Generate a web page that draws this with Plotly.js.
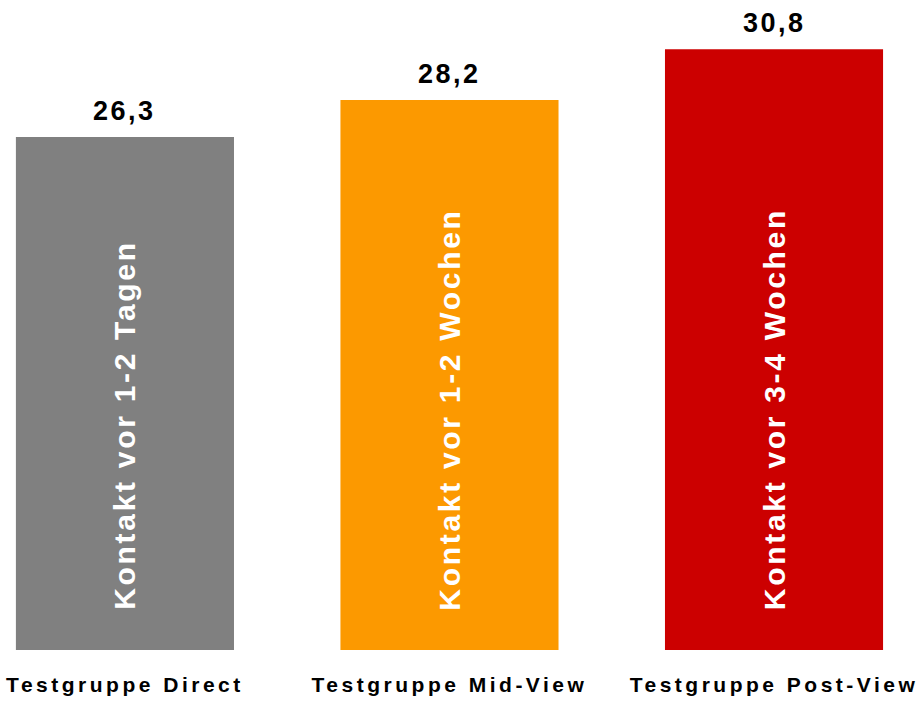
<!DOCTYPE html>
<html>
<head>
<meta charset="utf-8">
<script src="https://cdn.plot.ly/plotly-3.0.1.min.js"></script>
<style>
  html, body { margin: 0; padding: 0; background: #ffffff; }
  #chart { width: 922px; height: 701px; }
  /* spaced-out lettering for the value, bar and category labels */
  #chart g.annotation[data-index="0"] text,
  #chart g.annotation[data-index="1"] text,
  #chart g.annotation[data-index="2"] text { letter-spacing: 2.5px; }
  #chart g.annotation[data-index="3"] text,
  #chart g.annotation[data-index="4"] text,
  #chart g.annotation[data-index="5"] text { letter-spacing: 2.7px; }
  #chart g.xtick text { letter-spacing: 3.5px; }
</style>
</head>
<body>
<div id="chart"></div>
<script>
// Average contact counts per test group
const categories = ['Testgruppe Direct', 'Testgruppe Mid-View', 'Testgruppe Post-View'];
const values = [26.3, 28.2, 30.8];
const barLabels = ['Kontakt vor 1-2 Tagen', 'Kontakt vor 1-2 Wochen', 'Kontakt vor 3-4 Wochen'];
const barColors = ['#808080', '#FC9900', '#CC0000'];

const FONT = 'Liberation Sans, Arial, sans-serif';

const trace = {
  type: 'bar',
  x: categories,
  y: values,
  marker: { color: barColors, line: { width: 0 } },
  hoverinfo: 'skip'
};

const annotations = [];
// values above each bar, decimal comma
categories.forEach((c, i) => {
  annotations.push({
    x: c, y: values[i], xref: 'x', yref: 'y',
    text: values[i].toFixed(1).replace('.', ','),
    showarrow: false, xanchor: 'center', yanchor: 'bottom', yshift: 9,
    font: { family: FONT, size: 27, color: '#000000', weight: 'bold' }
  });
});
// rotated descriptions inside the bars, anchored near the base
categories.forEach((c, i) => {
  annotations.push({
    x: c, y: 0, xref: 'x', yref: 'y',
    text: barLabels[i],
    textangle: -90,
    showarrow: false, xanchor: 'center', yanchor: 'bottom', yshift: 67,
    font: { family: FONT, size: 30, color: '#ffffff', weight: 'bold' }
  });
});

const layout = {
  width: 922,
  height: 701,
  margin: { l: 0, r: 0, t: 0, b: 51, pad: 0 },
  paper_bgcolor: '#ffffff',
  plot_bgcolor: '#ffffff',
  showlegend: false,
  bargap: 0.328,
  xaxis: {
    type: 'category',
    range: [-0.385, 2.456],
    showgrid: false, zeroline: false, showline: false,
    ticks: '', ticklabelstandoff: 20,
    tickfont: { family: FONT, size: 21, color: '#000000', weight: 'bold' },
    fixedrange: true
  },
  yaxis: {
    range: [0, 33.33],
    visible: false,
    fixedrange: true
  },
  annotations: annotations
};

Plotly.newPlot('chart', [trace], layout, { displayModeBar: false, staticPlot: true });
</script>
</body>
</html>
